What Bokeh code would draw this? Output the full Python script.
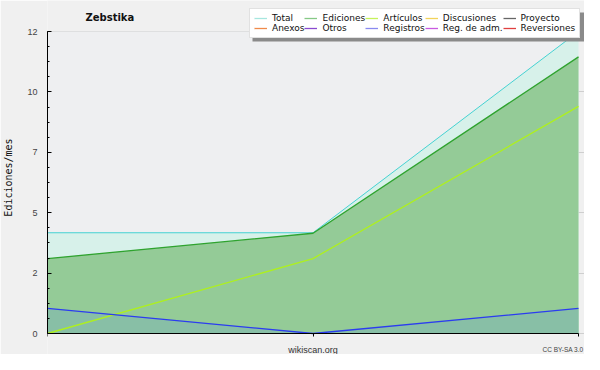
from bokeh.plotting import figure
from bokeh.models import (Legend, LegendItem, FixedTicker, Label, ColumnDataSource,
                          BoxAnnotation)
from bokeh.embed import file_html
from bokeh.resources import INLINE

# ---- data ----
x_index = [0, 1, 2]
x_labels = ["", "", ""]
total = [4.17, 4.17, 12.5]
ediciones = [3.1, 4.15, 11.45]
articulos = [0.0, 3.1, 9.4]
registros = [1.04, 0.0, 1.04]
zeros = [0.0, 0.0, 0.0]

y_ticks = [0, 2.5, 5, 7.5, 10, 12.5]
y_tick_labels = ["0", "2", "5", "7", "10", "12"]
y_minor = [i * 0.625 for i in range(21)]

legend_names = ["Total", "Ediciones", "Artículos", "Discusiones", "Proyecto",
                "Anexos", "Otros", "Registros", "Reg. de adm.", "Reversiones"]
legend_colors = ["#a6e6df", "#86c986", "#c6f25a", "#f2d35a", "#666666",
                 "#f08a4a", "#8a4ad0", "#8a8af0", "#c95ae0", "#e04040"]

chart_title = "Zebstika"
y_title = "Ediciones/mes"
x_title = "wikiscan.org"
licence = "CC BY-SA 3.0"

FONT = "DejaVu Sans"

# ---- layout (pixels) ----
W, H = 584, 354
LEFT = 47            # frame left
PLOT_RIGHT = 578     # pixel of last x value
PLOT_TOP = 31        # pixel of y max
PLOT_BOTTOM = 333    # pixel of y = 0
px_x = (PLOT_RIGHT - LEFT) / (x_index[-1] - x_index[0])
px_y = (PLOT_BOTTOM - PLOT_TOP) / (y_ticks[-1] - y_ticks[0])
x_end = x_index[-1] + (W - PLOT_RIGHT) / px_x
y_end = y_ticks[-1] + PLOT_TOP / px_y
y_start = y_ticks[0] - (H - PLOT_BOTTOM) / px_y

src = ColumnDataSource(dict(x=x_index, total=total, ed=ediciones, art=articulos,
                            reg=registros, z=zeros))

p = figure(width=W, height=H, output_backend="svg", toolbar_location=None, title=None,
           x_range=(x_index[0], x_end), y_range=(y_start, y_end),
           min_border_left=LEFT, min_border_right=0, min_border_top=0, min_border_bottom=0)

p.background_fill_color = "#f0f0f0"
p.border_fill_color = "#f0f0f0"
p.outline_line_color = None

# plot area background
p.add_layout(BoxAnnotation(left=x_index[0], right=x_index[-1], bottom=y_ticks[0], top=y_ticks[-1],
                           fill_color="#eeeff1", fill_alpha=1, line_color=None, level="underlay"))

# areas
p.varea(x="x", y1="z", y2="total", source=src, fill_color="#d7f1ea", fill_alpha=1)
p.varea(x="x", y1="z", y2="ed", source=src, fill_color="#94cb97", fill_alpha=1)
p.varea(x="x", y1="z", y2="reg", source=src, fill_color="#88bfa6", fill_alpha=1)

# lines
p.line(x="x", y="total", source=src, line_color="#45d2d2", line_width=1)
p.line(x="x", y="ed", source=src, line_color="#2fa32f", line_width=1.3)
p.line(x="x", y="art", source=src, line_color="#aef01e", line_width=1.3)
p.line(x="x", y="reg", source=src, line_color="#2b3cf0", line_width=1.3)

# grid
p.xgrid.visible = False
p.ygrid.ticker = FixedTicker(ticks=y_ticks)
p.ygrid.grid_line_color = "#cfcfcf"
p.ygrid.grid_line_width = 1

# y axis
ya = p.yaxis[0]
ya.bounds = (y_ticks[0], y_ticks[-1])
ya.ticker = FixedTicker(ticks=y_ticks, minor_ticks=y_minor)
ya.major_label_overrides = {t: l for t, l in zip(y_ticks, y_tick_labels)}
ya.major_tick_in = 4
ya.major_tick_out = 0
ya.minor_tick_in = 2
ya.minor_tick_out = 0
ya.major_label_standoff = 10
ya.major_label_text_font = "Liberation Sans"
ya.major_label_text_font_size = "9px"
ya.major_label_text_color = "#444444"
ya.axis_label = y_title
ya.axis_label_text_font = "DejaVu Sans Mono"
ya.axis_label_text_font_size = "10px"
ya.axis_label_text_font_style = "normal"
ya.axis_label_text_color = "#111111"
ya.axis_label_standoff = 10
ya.axis_line_color = "#000000"
ya.major_tick_line_color = "#000000"
ya.minor_tick_line_color = "#000000"

# x axis drawn at y = 0
xa = p.xaxis[0]
xa.fixed_location = y_ticks[0]
xa.bounds = (x_index[0], x_index[-1])
xa.ticker = FixedTicker(ticks=x_index)
xa.major_label_overrides = {t: l for t, l in zip(x_index, x_labels)}
xa.major_label_text_font_size = "1px"
xa.major_label_standoff = 0
xa.major_tick_in = 0
xa.major_tick_out = 3
xa.minor_tick_line_color = None
xa.axis_line_color = "#000000"
xa.major_tick_line_color = "#000000"

# texts
p.add_layout(Label(x=85 - LEFT, y=H - 17, x_units="screen", y_units="screen", text=chart_title,
                   text_font=FONT, text_font_size="10px", text_font_style="bold",
                   text_color="#111111", text_align="left", text_baseline="middle"))
p.add_layout(Label(x=(x_index[0] + x_index[-1]) / 2, y=H - 349, y_units="screen", text=x_title,
                   text_font="Liberation Sans", text_font_size="9px", text_color="#333333",
                   text_align="center", text_baseline="middle"))
p.add_layout(Label(x=583 - LEFT, y=H - 349, x_units="screen", y_units="screen", text=licence,
                   text_font="Liberation Sans", text_font_size="6.5px", text_color="#444444",
                   text_align="right", text_baseline="middle"))

# legend shadow
LEG_L, LEG_R, LEG_T, LEG_B = 249, 582, 9, 38
p.add_layout(BoxAnnotation(left=LEG_L + 3 - LEFT, right=LEG_R + 2 - LEFT,
                           bottom=H - LEG_B - 3, top=H - LEG_T - 3,
                           left_units="screen", right_units="screen",
                           bottom_units="screen", top_units="screen",
                           fill_color="#8a8a8a", fill_alpha=1, line_color=None))

# legend with dummy renderers
items = []
for name, col in zip(legend_names, legend_colors):
    r = p.line(x=[x_index[0]], y=[float("nan")], line_color=col, line_width=1.3)
    items.append(LegendItem(label=name, renderers=[r]))

legend = Legend(items=items, location=(LEG_L - LEFT, H - LEG_B), orientation="horizontal", ncols=5,
                label_text_font=FONT, label_text_font_size="9px", label_text_color="#111111",
                glyph_width=13, glyph_height=8, label_standoff=5, spacing=0, padding=4,
                margin=0, label_height=9, label_width=10,
                background_fill_color="#ffffff", background_fill_alpha=1,
                border_line_color="#c4c4c4", border_line_width=1)
p.add_layout(legend, "center")

open("out.html", "w").write(file_html(p, INLINE))
